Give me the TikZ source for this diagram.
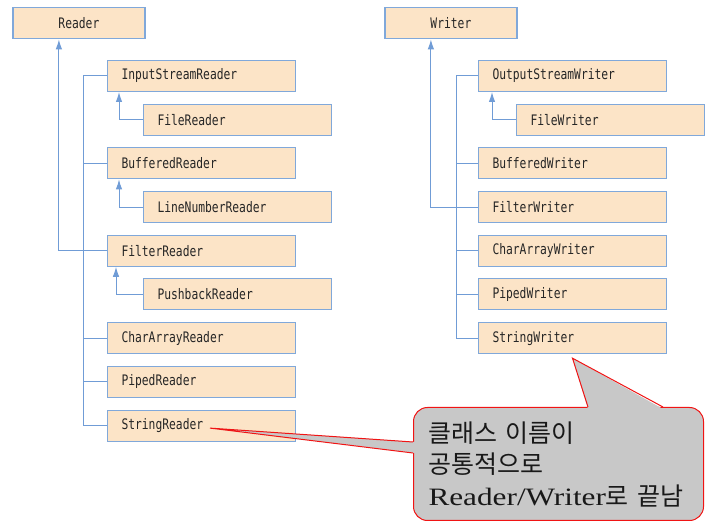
\documentclass[tikz,border=0pt]{standalone}
\usepackage{xcolor}
\definecolor{boxfill}{RGB}{252,228,199}
\definecolor{boxline}{RGB}{128,168,218}
\definecolor{linkblue}{RGB}{112,156,214}
\definecolor{notefill}{RGB}{200,200,200}
\definecolor{notered}{RGB}{240,20,20}
\usepackage{fontspec}
\newfontfamily\clsfont[FakeStretch=0.78]{DejaVu Sans Mono}
\newfontfamily\krfont{Noto Sans CJK KR}
\newfontfamily\notelatin[FakeStretch=1.25]{Liberation Serif}
\usepackage{tikz}
\usetikzlibrary{arrows.meta}
\newcommand{\widthroot}{132pt}
\newcommand{\widthcls}{160pt}
\newcommand{\rowstep}{43.7}
\tikzset{
    common/.style={anchor=west, draw=boxline, fill=boxfill, rectangle, line width=1pt,
        minimum height=31pt, inner ysep=0pt, text=black!85,
        font=\clsfont\fontsize{14.5}{16}\selectfont},
    root/.style={common, minimum width=\widthroot, line width=1.8pt},
    cls/.style={common, inner xsep=14pt, text width=\widthcls, align=left},
    link/.style={draw=linkblue, line width=1pt},
    inherit/.style={link, -{Latex[length=10pt,width=6.5pt]}},
    note/.style={anchor=north west, draw=notered, fill=notefill, line width=1pt,
        rounded corners=14pt, minimum width=290pt, minimum height=113pt,
        inner xsep=15pt, text width=260pt, align=left, text=black!90,
        font=\fontsize{25}{31.5}\selectfont},
    pointer/.style={draw=notered, line width=1pt}
}
\begin{document}
\begin{tikzpicture}[x=1pt,y=-1pt]
    \useasboundingbox (0,0) rectangle (705,521);

    % Reader
    \path (12,23) node[root] (reader) {Reader}
        (107,76) node[cls] (isr) {InputStreamReader}
        ++(36,\rowstep) node[cls] (fileR) {FileReader}
        ++(-36,\rowstep) node[cls] (bufR) {BufferedReader}
        ++(36,\rowstep) node[cls] (lineR) {LineNumberReader}
        ++(-36,\rowstep) node[cls] (filterR) {FilterReader}
        ++(36,\rowstep) node[cls] (pushR) {PushbackReader}
        ++(-36,\rowstep) node[cls] (charR) {CharArrayReader}
        ++(0,\rowstep) node[cls] (pipeR) {PipedReader}
        ++(0,\rowstep) node[cls] (strR) {StringReader};

    \draw[inherit] (filterR.west) -| ([xshift=-20pt]reader.south);
    \draw[link] (isr.west) -- ++(-24,0) |- (strR.west);
    \foreach \n in {bufR,charR,pipeR}
        \draw[link] (\n.west) -- ++(-24,0);
    \draw[inherit] (fileR.west) -| ([xshift=12pt]isr.south west);
    \draw[inherit] (lineR.west) -| ([xshift=12pt]bufR.south west);
    \draw[inherit] (pushR.west) -| ([xshift=9pt]filterR.south west);

    % Writer
    \path (384,23) node[root] (writer) {Writer}
        (478,76) node[cls] (osw) {OutputStreamWriter}
        ++(38,\rowstep) node[cls] (fileW) {FileWriter}
        ++(-38,\rowstep) node[cls] (bufW) {BufferedWriter}
        ++(0,\rowstep) node[cls] (filterW) {FilterWriter}
        ++(0,\rowstep) node[cls] (charW) {CharArrayWriter}
        ++(0,\rowstep) node[cls] (pipeW) {PipedWriter}
        ++(0,\rowstep) node[cls] (strW) {StringWriter};

    \draw[inherit] (filterW.west) -| ([xshift=-20pt]writer.south);
    \draw[link] (osw.west) -- ++(-22,0) |- (strW.west);
    \foreach \n in {bufW,charW,pipeW}
        \draw[link] (\n.west) -- ++(-22,0);
    \draw[inherit] (fileW.west) -| ([xshift=14pt]osw.south west);

    % callout
    \node[note] (note) at (413,407) {{\krfont 클래스 이름이}\\{\krfont 공통적으로}\\{\notelatin Reader/Writer}{\krfont 로 끝남}};
    \fill[notefill] ([shift={(175,2)}]note.north west) -- ([shift={(0,4)}]strW.south)
        -- ([shift={(250,2)}]note.north west) -- cycle;
    \draw[pointer] ([shift={(175,0)}]note.north west) -- ([shift={(0,4)}]strW.south)
        -- ([shift={(250,0)}]note.north west);
    \fill[notefill] ([shift={(2,35)}]note.north west) -- ([shift={(103,2.5)}]strR.west)
        -- ([shift={(2,46)}]note.north west) -- cycle;
    \draw[pointer] ([shift={(0,35)}]note.north west) -- ([shift={(103,2.5)}]strR.west)
        -- ([shift={(0,46)}]note.north west);
\end{tikzpicture}
\end{document}
